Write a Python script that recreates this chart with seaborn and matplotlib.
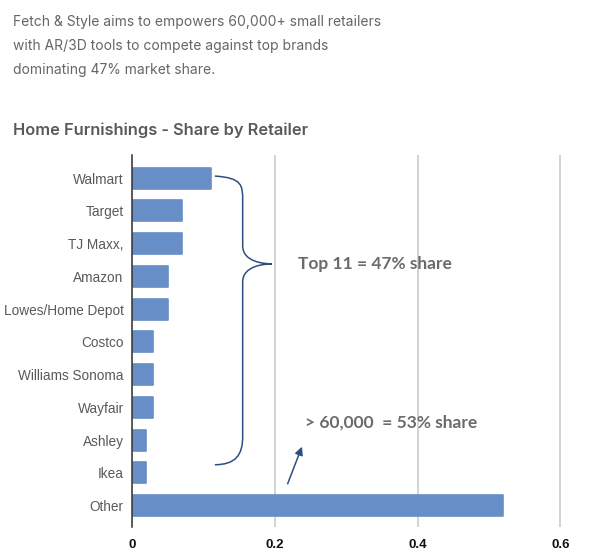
import pandas as pd
import matplotlib.pyplot as plt
import seaborn as sns
from matplotlib.path import Path
from matplotlib.patches import PathPatch

retailers = ['Walmart', 'Target', 'TJ Maxx,', 'Amazon', 'Lowes/Home Depot', 'Costco',
             'Williams Sonoma', 'Wayfair', 'Ashley', 'Ikea', 'Other']
share = [0.11, 0.07, 0.07, 0.05, 0.05, 0.03, 0.03, 0.03, 0.02, 0.02, 0.52]
x_ticks = [0, 0.2, 0.4, 0.6]
x_tick_labels = ['0', '0.2', '0.4', '0.6']

intro_lines = ["Fetch & Style aims to empowers 60,000+ small retailers",
               "with AR/3D tools to compete against top brands",
               "dominating 47% market share."]
title = "Home Furnishings - Share by Retailer"
top_note = "Top 11 = 47% share"
rest_note = "> 60,000  = 53% share"


def main():
    df = pd.DataFrame({'Retailer': retailers, 'Share': share})

    sns.set_theme(style="white")
    plt.rcParams['font.family'] = ['Liberation Sans', 'DejaVu Sans']

    fig = plt.figure(figsize=(6.14, 5.6), dpi=100)
    ax = fig.add_axes([0.215, 0.059, 0.721, 0.664])

    sns.barplot(ax=ax, data=df, y='Retailer', x='Share', orient='h',
                color='#688ec7', saturation=1, width=0.64,
                edgecolor='#688ec7', linewidth=1.2)
    for p in ax.patches:
        p.set_joinstyle('round')

    ax.set_xlim(0, 0.62)
    ax.set_ylim(10.65, -0.7)
    ax.set_xticks(x_ticks)
    ax.set_xticklabels(x_tick_labels, fontsize=9.5, fontweight='bold', color='#111111')
    ax.tick_params(axis='y', labelsize=9.8, colors='#595959', length=0, pad=6)
    ax.tick_params(axis='x', length=0, pad=9)
    ax.set_xlabel('')
    ax.set_ylabel('')
    ax.xaxis.grid(True, color='#d0d0d0', linewidth=1.3)
    ax.set_axisbelow(True)
    for side in ['top', 'right', 'bottom']:
        ax.spines[side].set_visible(False)
    ax.spines['left'].set_color('#333333')
    ax.spines['left'].set_linewidth(1.1)
    ax.spines['left'].set_zorder(3)

    # curly brace around the top retailers
    xs, xv, xt = 0.116, 0.155, 0.196
    y0, yt, y1 = -0.06, 2.62, 8.75
    verts = [
        (xs, y0),
        (xv, y0 + 0.05), (xv, y0 + 0.3), (xv, y0 + 0.75),
        (xv, yt - 0.55),
        (xv, yt - 0.05), (xt - 0.01, yt), (xt, yt),
        (xt - 0.01, yt), (xv, yt + 0.05), (xv, yt + 0.55),
        (xv, y1 - 0.85),
        (xv, y1 - 0.3), (xv - 0.01, y1), (xs, y1),
    ]
    codes = [Path.MOVETO,
             Path.CURVE4, Path.CURVE4, Path.CURVE4,
             Path.LINETO,
             Path.CURVE4, Path.CURVE4, Path.CURVE4,
             Path.CURVE4, Path.CURVE4, Path.CURVE4,
             Path.LINETO,
             Path.CURVE4, Path.CURVE4, Path.CURVE4]
    ax.add_patch(PathPatch(Path(verts, codes), facecolor='none',
                           edgecolor='#2e4f7e', linewidth=1.1, zorder=4))

    note_font = ['Lato', 'DejaVu Sans']
    ax.text(0.232, 2.62, top_note, fontsize=12.5, fontweight='bold', color='#6b6b6b',
            va='center', ha='left', family=note_font, zorder=5)
    ax.text(0.242, 7.47, rest_note, fontsize=12.5, fontweight='bold', color='#6b6b6b',
            va='center', ha='left', family=note_font, zorder=5)
    ax.annotate('', xy=(0.238, 8.2), xytext=(0.218, 9.33),
                arrowprops=dict(arrowstyle='-|>', color='#2e4f7e', lw=1.1,
                                mutation_scale=12, shrinkA=0, shrinkB=0))

    for i, line in enumerate(intro_lines):
        fig.text(13 / 614, 1 - (22 + 24 * i) / 560, line, fontsize=10, color='#666666',
                 va='center', ha='left', family=['Inter', 'DejaVu Sans'])
    fig.text(13 / 614, 1 - 130 / 560, title, fontsize=11.8, fontweight='semibold',
             color='#595959', va='center', ha='left', family=['Inter', 'DejaVu Sans'])

    fig.savefig('out.png', dpi=100)
    plt.close(fig)


if __name__ == "__main__":
    main()
